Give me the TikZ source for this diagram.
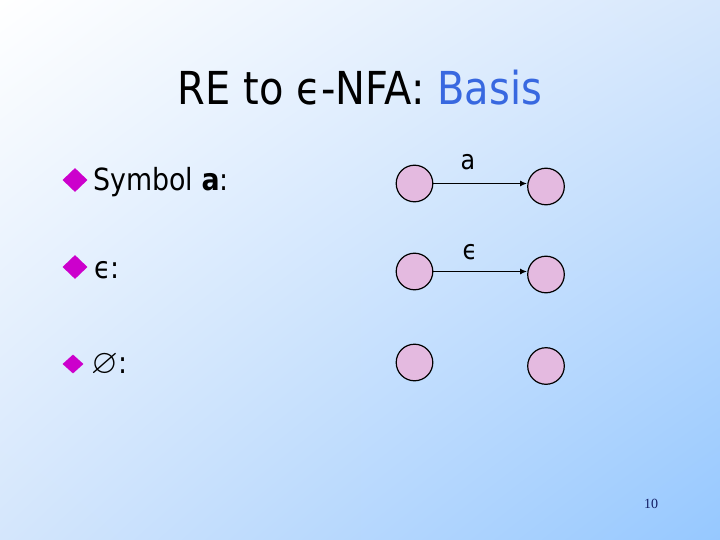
\documentclass[tikz,border=0pt]{standalone}
\usepackage{fontspec}
\usepackage{amssymb}
\setmainfont{DejaVu Sans}[FakeStretch=0.88]
\newfontfamily\pagefont{Liberation Serif}
\usetikzlibrary{shapes.geometric,arrows.meta,shadings}
\definecolor{bgTR}{RGB}{214,231,252}
\definecolor{bgBL}{RGB}{212,230,252}
\definecolor{bgBR}{RGB}{150,200,255}
\definecolor{bulletmag}{RGB}{204,0,204}
\definecolor{basisblue}{RGB}{56,104,224}
\definecolor{statefill}{RGB}{228,186,224}
\definecolor{navy}{RGB}{20,30,100}
\tikzset{
  state/.style={circle,draw=black,line width=1.2pt,fill=statefill,minimum size=36.6pt,inner sep=0pt},
  bulletmark/.style={diamond,fill=bulletmag,inner sep=0pt,minimum width=25pt,minimum height=24pt},
  bodytext/.style={anchor=base west,inner sep=0pt,font=\fontsize{30.5}{36}\selectfont},
  edgelabel/.style={inner sep=0pt,font=\fontsize{27}{30}\selectfont},
  trans/.style={-{Latex[length=7pt,width=6pt]},line width=1.6pt}
}
\begin{document}
\begin{tikzpicture}[x=1pt,y=-1pt]
\useasboundingbox (0,0) rectangle (720,540);
\shade[upper left=white, upper right=bgTR, lower left=bgBL, lower right=bgBR] (0,0) rectangle (720,540);
% title
\node[anchor=base,inner sep=0pt,font=\fontsize{45.4}{52}\selectfont] (title) at (360,105) {RE to ϵ-NFA: \textcolor{basisblue}{Basis}};
% bullets
\node[bulletmark] (b1) at (75,180) {};
\node[bodytext] (t1) at (93,191) {Symbol \textbf{a}:};
\node[bulletmark] (b2) at (75,267) {};
\node[bodytext] (t2) at (94,278) {ϵ:};
\node[bulletmark,minimum width=21pt,minimum height=19pt] (b3) at (73,364) {};
\node[bodytext] (t3) at (91,373) {\scalebox{1.5}{\fontsize{23}{26}\selectfont$\varnothing$}:};
% states
\node[state] (s1) at (414.5,183.5) {};
\node[state] (s2) at (546,186.5) {};
\node[state] (s3) at (414.5,271.5) {};
\node[state] (s4) at (546,274.5) {};
\node[state] (s5) at (414.5,362.5) {};
\node[state] (s6) at (546,366) {};
\draw[trans] (s1.east) -- (s1.east -| s2.west);
\draw[trans] (s3.east) -- (s3.east -| s4.west);
\node[edgelabel] (la) at (468,162) {a};
\node[edgelabel] (le) at (470,252) {ϵ};
% page number
\node[inner sep=0pt,font=\pagefont\fontsize{14}{16}\selectfont,text=navy] (pg) at (651,504) {10};
\end{tikzpicture}
\end{document}
